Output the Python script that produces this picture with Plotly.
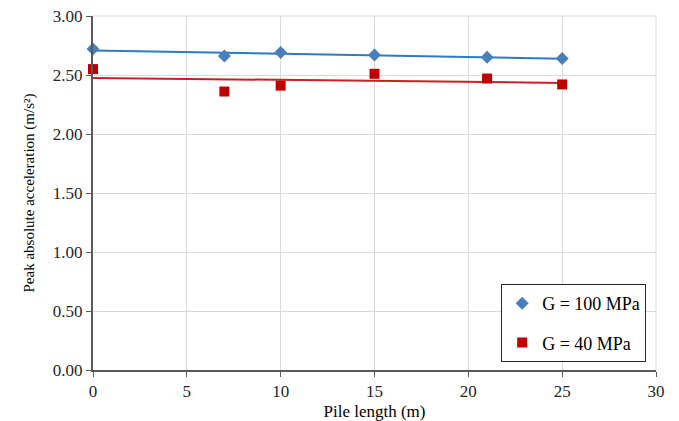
import numpy as np
import plotly.graph_objects as go

pile_length = [0, 7, 10, 15, 21, 25]
g100 = [2.72, 2.66, 2.69, 2.67, 2.65, 2.64]
g40 = [2.55, 2.36, 2.41, 2.51, 2.47, 2.42]
x_ticks = [0, 5, 10, 15, 20, 25, 30]
y_ticks = [0, 0.5, 1.0, 1.5, 2.0, 2.5, 3.0]

FONT = "Liberation Serif"

fig = go.Figure()

def trend(x, y):
    k, b = np.polyfit(x, y, 1)
    xs = np.array([min(x), max(x)])
    return xs, k * xs + b

for ys, lc in [(g100, "#2c7bc8"), (g40, "#cc1f24")]:
    tx, ty = trend(pile_length, ys)
    fig.add_trace(go.Scatter(x=tx, y=ty, mode="lines", line=dict(color=lc, width=2),
                             showlegend=False, hoverinfo="skip", cliponaxis=False))

fig.add_trace(go.Scatter(x=pile_length, y=g100, mode="markers", name="G = 100 MPa",
                         legendgroup="a", cliponaxis=False,
                         marker=dict(symbol="diamond", size=10, color="#4a7ebb")))
fig.add_trace(go.Scatter(x=pile_length, y=g40, mode="markers", name="G = 40 MPa",
                         legendgroup="b", cliponaxis=False,
                         marker=dict(symbol="square", size=10, color="#c00000")))

fig.update_layout(
    width=679, height=421,
    margin=dict(l=93, r=23, t=16, b=51),
    paper_bgcolor="white", plot_bgcolor="white",
    font=dict(family=FONT, size=17, color="#262626"),
    legend=dict(x=0.725, y=0.243, xanchor="left", yanchor="top",
                bordercolor="#262626", borderwidth=1, bgcolor="white",
                font=dict(family=FONT, size=18, color="#000000"),
                tracegroupgap=13, itemwidth=30),
    xaxis=dict(range=[0, 30], tickvals=x_ticks, ticktext=[str(v) for v in x_ticks],
               showgrid=True, gridcolor="#d9d9d9", gridwidth=1,
               showline=True, linecolor="#595959", linewidth=2,
               ticks="outside", ticklen=5, tickcolor="#595959",
               zeroline=False, mirror=False, automargin=False,
               tickfont=dict(family=FONT, size=17, color="#262626"),
               title=dict(text="Pile length (m)",
                          font=dict(family=FONT, size=17, color="#000000"))),
    yaxis=dict(range=[0, 3.0], tickvals=y_ticks, ticktext=[f"{v:.2f}" for v in y_ticks],
               showgrid=True, gridcolor="#d9d9d9", gridwidth=1,
               showline=True, linecolor="#595959", linewidth=2,
               ticks="outside", ticklen=5, tickcolor="#595959",
               zeroline=False, automargin=False,
               tickfont=dict(family=FONT, size=17, color="#262626"),
               title=dict(text="Peak absolute acceleration (m/s²)",
                          font=dict(family=FONT, size=15, color="#000000"))),
)

fig.add_shape(type="line", xref="paper", yref="paper", x0=1, x1=1, y0=0, y1=1,
              line=dict(color="#d9d9d9", width=1), layer="below")
fig.add_shape(type="line", xref="paper", yref="paper", x0=0, x1=1, y0=1, y1=1,
              line=dict(color="#d9d9d9", width=1), layer="below")

fig.write_html("out.html")
